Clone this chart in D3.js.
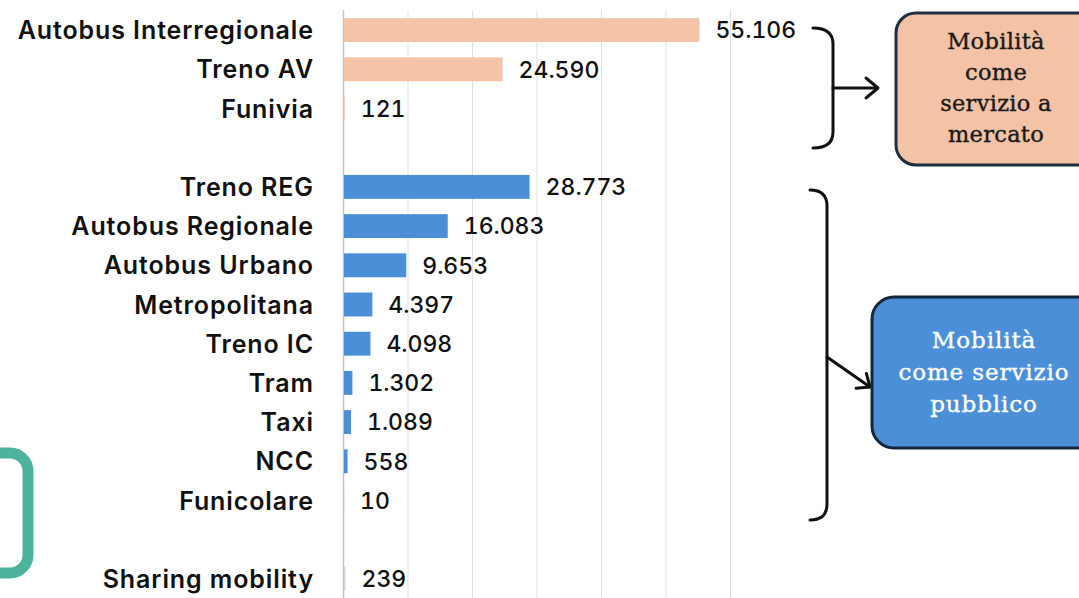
<!DOCTYPE html>
<html>
<head>
<meta charset="utf-8">
<script src="https://cdn.jsdelivr.net/npm/d3@7"></script>
<style>
	body { margin: 0; background: #fff; }
	svg { display: block; }
</style>
</head>
<body>
<svg id="chart" width="1079" height="598"></svg>
<script>
(function() {

	// --- data ---
	var marketCats = ['Autobus Interregionale', 'Treno AV', 'Funivia'];
	var marketVals = [55106, 24590, 121];
	var publicCats = ['Treno REG', 'Autobus Regionale', 'Autobus Urbano', 'Metropolitana', 'Treno IC', 'Tram', 'Taxi', 'NCC', 'Funicolare'];
	var publicVals = [28773, 16083, 9653, 4397, 4098, 1302, 1089, 558, 10];
	var sharingCats = ['Sharing mobility'];
	var sharingVals = [239];
	var xTicks = [0, 10000, 20000, 30000, 40000, 50000, 60000];
	var marketText = ['Mobilità', 'come', 'servizio a', 'mercato'];
	var publicText = ['Mobilità', 'come servizio', 'pubblico'];

	var COLORS = { market: '#F5C4A8', pub: '#4A8FD8', sharing: '#D6D6D6' };

	var rows = [];
	marketCats.forEach(function(c, i) { rows.push({ cat: c, value: marketVals[i], group: 'market' }); });
	rows.push({ cat: '_gap1', value: null });
	publicCats.forEach(function(c, i) { rows.push({ cat: c, value: publicVals[i], group: 'pub' }); });
	rows.push({ cat: '_gap2', value: null });
	sharingCats.forEach(function(c, i) { rows.push({ cat: c, value: sharingVals[i], group: 'sharing' }); });
	var bars = rows.filter(function(d) { return d.value !== null; });

	var svg = d3.select('#chart');
	var fmt = d3.formatLocale({ decimal: ',', thousands: '.', grouping: [3], currency: ['€', ''] }).format(',d');

	var x = d3.scaleLinear().domain([0, 60000]).range([343, 730]);
	var y = d3.scaleBand()
		.domain(rows.map(function(d) { return d.cat; }))
		.range([10.5, 598.5])
		.paddingInner(0.39)
		.paddingOuter(0.195);

	// gridlines
	svg.append('g').selectAll('line').data(xTicks).join('line')
		.attr('x1', function(d) { return x(d) + 0.5; })
		.attr('x2', function(d) { return x(d) + 0.5; })
		.attr('y1', 10).attr('y2', 598)
		.attr('stroke', function(d) { return d === 0 ? '#C8C8C8' : '#E0E0E0'; })
		.attr('stroke-width', function(d) { return d === 0 ? 1.5 : 1; });

	// bars
	svg.append('g').selectAll('rect').data(bars).join('rect')
		.attr('x', x(0) + 1)
		.attr('y', function(d) { return y(d.cat); })
		.attr('width', function(d) { return Math.max(0, x(d.value) - x(0)); })
		.attr('height', y.bandwidth())
		.attr('fill', function(d) { return COLORS[d.group]; });

	// category labels
	svg.append('g').selectAll('text').data(bars).join('text')
		.attr('x', 314)
		.attr('y', function(d) { return y(d.cat) + y.bandwidth() / 2; })
		.attr('dy', '0.36em')
		.attr('text-anchor', 'end')
		.attr('font-family', 'Inter, sans-serif')
		.attr('font-weight', 600)
		.attr('font-size', 25)
		.attr('letter-spacing', 0.9)
		.attr('fill', '#111')
		.text(function(d) { return d.cat; });

	// value labels
	svg.append('g').selectAll('text').data(bars).join('text')
		.attr('x', function(d) { return x(d.value) + 17; })
		.attr('y', function(d) { return y(d.cat) + y.bandwidth() / 2; })
		.attr('dy', '0.36em')
		.attr('font-family', 'Inter, sans-serif')
		.attr('font-weight', 500)
		.attr('font-size', 23)
		.style('font-variant-numeric', 'tabular-nums')
		.attr('fill', '#111')
		.text(function(d) { return fmt(d.value); });

	// --- annotations ---
	var ann = svg.append('g')
		.attr('fill', 'none')
		.attr('stroke', '#111')
		.attr('stroke-width', 3)
		.attr('stroke-linecap', 'round')
		.attr('stroke-linejoin', 'round');

	ann.append('path').attr('d', 'M813,28 Q833,28 833,44 L833,132 Q833,148 813,148');
	ann.append('path').attr('d', 'M833,88 L877,88');
	ann.append('path').attr('d', 'M866,78 L878,88 L866,98');

	ann.append('path').attr('d', 'M810,190 Q827,190 827,206 L827,504 Q827,520 810,520');
	ann.append('path').attr('d', 'M827,357 L870,387');
	drawHead(ann, 827, 357, 870, 387);

	function drawHead(g, x0, y0, x1, y1) {
		var a = Math.atan2(y1 - y0, x1 - x0);
		var len = 14, spread = Math.PI / 4.5;
		var p = d3.path();
		p.moveTo(x1 - len * Math.cos(a - spread), y1 - len * Math.sin(a - spread));
		p.lineTo(x1, y1);
		p.lineTo(x1 - len * Math.cos(a + spread), y1 - len * Math.sin(a + spread));
		g.append('path').attr('d', p.toString());
	}

	// boxes
	svg.append('rect')
		.attr('x', 896).attr('y', 13).attr('width', 210).attr('height', 152).attr('rx', 20)
		.attr('fill', '#F4C2A5').attr('stroke', '#1D2E3E').attr('stroke-width', 3);
	svg.append('g').selectAll('text').data(marketText).join('text')
		.attr('x', 996)
		.attr('y', function(d, i) { return 49 + i * 31; })
		.attr('text-anchor', 'middle')
		.attr('font-family', 'DejaVu Serif, serif')
		.attr('font-size', 22.5)
		.attr('letter-spacing', 0.3)
		.attr('fill', '#1a1a1a')
		.attr('stroke', '#1a1a1a')
		.attr('stroke-width', 0.4)
		.text(function(d) { return d; });

	svg.append('rect')
		.attr('x', 872).attr('y', 297).attr('width', 230).attr('height', 151).attr('rx', 22)
		.attr('fill', '#4A8FD8').attr('stroke', '#13283A').attr('stroke-width', 3);
	svg.append('g').selectAll('text').data(publicText).join('text')
		.attr('x', 984)
		.attr('y', function(d, i) { return 348 + i * 32; })
		.attr('text-anchor', 'middle')
		.attr('font-family', 'DejaVu Serif, serif')
		.attr('font-size', 23)
		.attr('letter-spacing', 0.9)
		.attr('fill', '#fff')
		.attr('stroke', '#fff')
		.attr('stroke-width', 0.4)
		.text(function(d) { return d; });

	// green bracket on the left edge
	svg.append('rect')
		.attr('x', -70).attr('y', 453).attr('width', 98).attr('height', 120).attr('rx', 18)
		.attr('fill', 'none').attr('stroke', '#4DB39E').attr('stroke-width', 11);
}());
</script>
</body>
</html>
